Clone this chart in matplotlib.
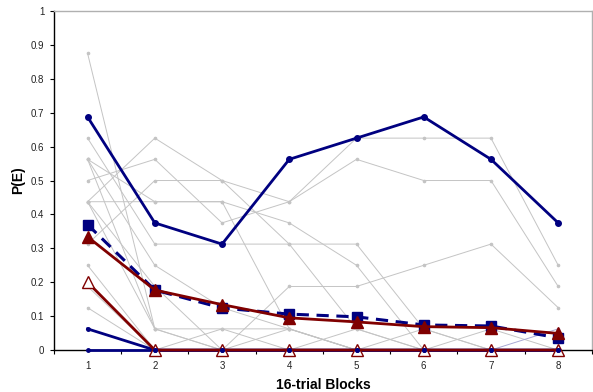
import matplotlib
matplotlib.use("Agg")
import matplotlib.pyplot as plt
from matplotlib.ticker import FixedLocator, NullFormatter

plt.rcParams['font.family'] = ['Liberation Sans', 'DejaVu Sans']

blocks = [1, 2, 3, 4, 5, 6, 7, 8]

# individual subjects (gray)
gray_lines = [
    [0.875, 0.0625, 0, 0, 0, 0, 0, 0],
    [0.625, 0.3125, 0.3125, 0.3125, 0.3125, 0.0625, 0, 0],
    [0.5625, 0.0625, 0.0625, 0, 0.0625, 0, 0, 0],
    [0.5625, 0.25, 0.125, 0.0625, 0, 0, 0, 0],
    [0.5, 0.5625, 0.375, 0.4375, 0.5625, 0.5, 0.5, 0.1875],
    [0.4375, 0.625, 0.5, 0.4375, 0.625, 0.625, 0.625, 0.25],
    [0.4375, 0.4375, 0.4375, 0.375, 0.25, 0, 0, 0],
    [0.4375, 0.1875, 0, 0.1875, 0.1875, 0.25, 0.3125, 0.125],
    [0.3125, 0.5, 0.5, 0.3125, 0.0625, 0, 0, 0],
    [0.25, 0, 0, 0, 0, 0, 0, 0],
    [0.1875, 0, 0, 0, 0, 0, 0, 0],
    [0.125, 0, 0.0625, 0.0625, 0, 0.0625, 0, 0],
    [0.4375, 0.0625, 0, 0.0625, 0, 0, 0.0625, 0],
    [0.5625, 0.4375, 0.4375, 0.0625, 0, 0, 0, 0],
]
lavender_line = [0.0625, 0, 0, 0, 0, 0, 0, 0.0625]

blue_subject_high = [0.6875, 0.375, 0.3125, 0.5625, 0.625, 0.6875, 0.5625, 0.375]
blue_subject_low = [0.0625, 0, 0, 0, 0, 0, 0, 0]
blue_subject_zero = [0, 0, 0, 0, 0, 0, 0, 0]
blue_mean = [0.37, 0.177, 0.124, 0.106, 0.098, 0.074, 0.071, 0.036]
red_mean = [0.334, 0.177, 0.134, 0.095, 0.083, 0.069, 0.066, 0.049]
red_subject = [0.2, 0, 0, 0, 0, 0, 0, 0]

y_ticks = [0, 0.1, 0.2, 0.3, 0.4, 0.5, 0.6, 0.7, 0.8, 0.9, 1]
y_labels = ["0", "0.1", "0.2", "0.3", "0.4", "0.5", "0.6", "0.7", "0.8", "0.9", "1"]

NAVY = "#000080"
DRED = "#800000"
GRAY = "#c4c4c4"

fig = plt.figure(figsize=(5.93, 3.92), dpi=100)
ax = fig.add_axes([0.091, 0.107, 0.907, 0.865])

for g in gray_lines:
    ax.plot(blocks, g, color=GRAY, lw=0.7, marker='o', ms=1.6, zorder=1)
ax.plot(blocks, lavender_line, color="#a8a8d4", lw=0.7, marker='o', ms=1.6, zorder=1.5)

ax.plot(blocks, blue_subject_high, color=NAVY, lw=2, marker='o', ms=4, zorder=3)
ax.plot(blocks, blue_subject_zero, color=NAVY, lw=2, zorder=3, clip_on=False)
ax.plot(blocks, blue_subject_low, color=NAVY, lw=2, zorder=3, clip_on=False)
ax.plot(blocks, blue_mean, color=NAVY, lw=2.2, ls=(0, (4, 2.5)), marker='s', ms=7, zorder=4)
ax.plot(blocks, red_mean, color=DRED, lw=2, marker='^', ms=8, zorder=5)
ax.plot(blocks, red_subject, color=DRED, lw=2, marker='^', ms=8, mfc='white', mec=DRED,
        mew=1, zorder=5, clip_on=False)
ax.plot(blocks, blue_subject_low, color=NAVY, ls='none', marker='o', ms=2.5, zorder=6, clip_on=False)
ax.plot(blocks, blue_subject_zero, color=NAVY, ls='none', marker='o', ms=2.5, zorder=6, clip_on=False)

ax.set_xlim(0.5, 8.5)
ax.set_ylim(0, 1)
ax.set_yticks(y_ticks)
ax.set_yticklabels(y_labels)
ax.set_xticks(blocks)
ax.set_xticklabels([str(b) for b in blocks])
ax.xaxis.set_minor_locator(FixedLocator([0.5 + i for i in range(9)]))
ax.xaxis.set_minor_formatter(NullFormatter())
ax.tick_params(axis='x', which='major', length=0, labelsize=7, pad=8)
ax.tick_params(axis='x', which='minor', length=3, width=0.8, direction='out')
ax.tick_params(axis='y', length=3, width=0.8, labelsize=7, pad=4)
for lbl in ax.get_xticklabels() + ax.get_yticklabels():
    lbl.set_color('#222222')

ax.spines['left'].set_color('black')
ax.spines['bottom'].set_color('black')
ax.spines['top'].set_color('#b0b0b0')
ax.spines['right'].set_color('#b0b0b0')
for s in ax.spines.values():
    s.set_linewidth(1)

ax.set_ylabel("P(E)", fontsize=10, fontweight='bold', labelpad=4)
ax.set_xlabel("16-trial Blocks", fontsize=10, fontweight='bold', labelpad=5)

fig.savefig("out.png", dpi=100)
